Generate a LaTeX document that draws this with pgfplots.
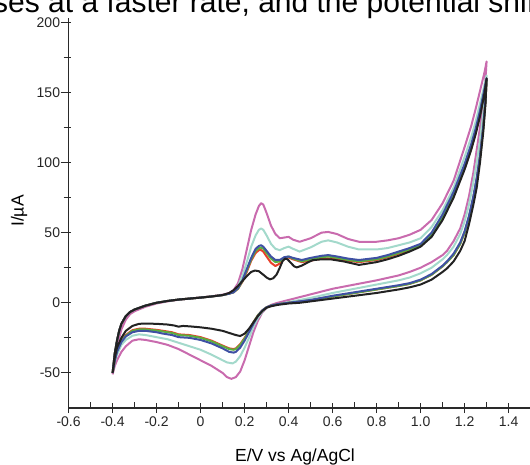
\documentclass[border=0pt]{standalone}
\usepackage{fontspec}
\setmainfont{Liberation Sans}
\usepackage{pgfplots}
\pgfplotsset{compat=1.18}
\definecolor{cvpink}{HTML}{C96BAE}
\definecolor{cvteal}{HTML}{A3D9CB}
\definecolor{cvblue}{HTML}{3F51A3}
\definecolor{cvgreen}{HTML}{5BAE3F}
\definecolor{cvred}{HTML}{E8402A}
\definecolor{cvblack}{HTML}{222222}
\definecolor{axgray}{HTML}{2A2A2A}
\begin{document}
\begin{tikzpicture}[x=1pt,y=1pt]
\useasboundingbox (0,0) rectangle (530,-465);
\node[anchor=base west, inner sep=0pt, font=\fontsize{30}{30}\selectfont] at (-7,-13) {ses at a faster rate, and the potential shift};
\begin{axis}[
  at={(68.6pt,-408pt)}, anchor=south west,
  scale only axis, width=462pt, height=390pt,
  xmin=-0.6, xmax=1.5, ymin=-75, ymax=203,
  axis lines=left,
  axis line style={-, line width=1.6pt, color=axgray},
  tick align=center,
  major tick length=10pt, minor tick length=7pt,
  every tick/.style={line width=1.1pt, color=axgray},
  every major y tick/.style={xshift=-3pt},
  every minor y tick/.style={xshift=-1.5pt},
  every minor x tick/.style={yshift=3pt},
  xtick={-0.6,-0.4,-0.2,0,0.2,0.4,0.6,0.8,1.0,1.2,1.4},
  xticklabels={-0.6,-0.4,-0.2,0,0.2,0.4,0.6,0.8,1.0,1.2,1.4},
  minor xtick={-0.5,-0.3,-0.1,0.1,0.3,0.5,0.7,0.9,1.1,1.3},
  ytick={-50,0,50,100,150,200},
  yticklabels={-50,0,50,100,150,200},
  minor ytick={-25,25,75,125,175},
  ticklabel style={font=\fontsize{14}{14}\selectfont, color=black!85},
  xlabel={E/V vs Ag/AgCl},
  ylabel={I/\textmu A},
  xlabel style={font=\fontsize{17.5}{18}\selectfont, at={(axis description cs:0.49,-0.1377)}, anchor=base},
  ylabel style={font=\fontsize{17.5}{18}\selectfont, at={(axis description cs:-0.107,0.505)}, anchor=center, rotate=0},
  clip=false,
  every axis plot/.append style={line width=2pt, line join=round, mark=none},
]
% pink
\addplot[cvpink] coordinates {
(-0.4,-51) (-0.395,-46) (-0.39,-40) (-0.38,-32) (-0.37,-25) (-0.36,-19) (-0.34,-12) (-0.32,-8) (-0.3,-6) (-0.25,-2.8) (-0.2,-0.5) (-0.15,1) (-0.1,2.2) (-0.05,3) (0,3.8) (0.05,4.6) (0.1,5.8) (0.13,7)
(0.15,9) (0.17,14) (0.19,24) (0.21,38) (0.23,52) (0.25,63) (0.265,69) (0.275,71) (0.285,70) (0.3,64) (0.32,55) (0.34,49) (0.36,46) (0.38,46.5) (0.4,47) (0.42,45) (0.45,43.5) (0.5,46) (0.55,50) (0.58,50.5) (0.62,49) (0.67,45.5) (0.72,43.5) (0.8,43.5) (0.85,44.5) (0.9,46) (0.95,48.5) (1.0,52) (1.05,59) (1.1,71) (1.15,87) (1.2,111) (1.23,126) (1.25,138) (1.27,151) (1.29,164) (1.3,172)
(1.295,160) (1.285,145) (1.27,125) (1.255,109) (1.24,93) (1.22,76) (1.2,63) (1.18,53) (1.15,44) (1.12,37) (1.1,34) (1.05,29) (1.0,25) (0.95,22) (0.9,19.5) (0.8,16) (0.7,13) (0.6,10) (0.5,6) (0.45,4) (0.4,2) (0.35,0) (0.32,-1.5) (0.3,-3.5) (0.28,-7) (0.26,-13) (0.24,-21) (0.22,-31) (0.2,-41) (0.18,-49) (0.16,-53) (0.14,-54.2) (0.12,-53) (0.1,-50) (0.05,-45) (0,-41) (-0.05,-37) (-0.1,-33) (-0.15,-30) (-0.2,-28) (-0.25,-26.5) (-0.28,-26) (-0.31,-27) (-0.34,-31) (-0.36,-35) (-0.38,-41) (-0.39,-45) (-0.4,-51)
};
% teal
\addplot[cvteal] coordinates {
(-0.4,-50) (-0.395,-43) (-0.39,-36) (-0.38,-27) (-0.37,-20) (-0.36,-15) (-0.34,-9.5) (-0.32,-6.5) (-0.3,-4.8) (-0.25,-2) (-0.2,0) (-0.15,1.3) (-0.1,2.3) (-0.05,3) (0,3.7) (0.05,4.5) (0.1,5.5) (0.13,6.5)
(0.15,8) (0.17,12) (0.19,19) (0.21,29) (0.23,40) (0.25,48) (0.265,52) (0.275,53) (0.285,52) (0.3,48) (0.32,42) (0.34,38.5) (0.36,37.5) (0.38,39) (0.4,40) (0.42,38.5) (0.45,36.5) (0.5,39.5) (0.55,43.5) (0.58,44.5) (0.62,43) (0.67,40) (0.72,38) (0.8,38) (0.85,39) (0.9,41) (0.95,43) (1.0,46) (1.05,54) (1.1,66) (1.15,82) (1.2,104) (1.23,118) (1.25,129) (1.27,142) (1.29,155) (1.3,162)
(1.295,151) (1.285,135) (1.27,116) (1.255,100) (1.24,86) (1.22,70) (1.2,58) (1.18,49) (1.15,40) (1.12,34) (1.1,31) (1.05,25) (1.0,21) (0.95,18) (0.9,16) (0.8,13) (0.7,10) (0.6,7) (0.5,3.5) (0.45,2) (0.4,0.5) (0.35,-1) (0.32,-2) (0.3,-3.5) (0.28,-6.5) (0.26,-11) (0.24,-17) (0.22,-25) (0.2,-32) (0.18,-38) (0.16,-42) (0.145,-43.2) (0.12,-42.5) (0.1,-41) (0.05,-37) (0,-33.5) (-0.05,-31) (-0.1,-28.5) (-0.15,-26) (-0.2,-24.5) (-0.25,-23) (-0.28,-22.5) (-0.31,-23.5) (-0.34,-26.5) (-0.36,-30) (-0.38,-37) (-0.39,-42) (-0.4,-50)
};
% red
\addplot[cvred] coordinates {
(-0.4,-50) (-0.395,-43) (-0.39,-36) (-0.38,-27) (-0.37,-20) (-0.36,-15) (-0.34,-9.5) (-0.32,-6.5) (-0.3,-4.8) (-0.25,-2) (-0.2,0) (-0.15,1.3) (-0.1,2.3) (-0.05,3) (0,3.7) (0.05,4.5) (0.1,5.5) (0.13,6.5)
(0.15,7.5) (0.17,10) (0.19,15) (0.21,22) (0.23,30) (0.25,35.5) (0.265,37.5) (0.275,37.6) (0.285,36.5) (0.3,33) (0.32,28.5) (0.34,26.2) (0.36,28) (0.38,31.5) (0.4,32.3) (0.42,31) (0.46,29) (0.5,30) (0.55,31.5) (0.58,31.6) (0.62,31) (0.67,30) (0.72,29) (0.8,30.5) (0.85,32.5) (0.9,35) (0.95,37.5) (1.0,40.5) (1.05,48) (1.1,60) (1.15,76) (1.2,96) (1.23,110) (1.25,121) (1.27,134) (1.29,150) (1.3,159)
(1.295,144) (1.285,125) (1.27,104) (1.255,88) (1.24,75) (1.22,61) (1.2,50) (1.18,42) (1.15,34) (1.12,29) (1.1,26) (1.05,20) (1.0,16) (0.95,13.5) (0.9,12) (0.8,9.5) (0.7,7) (0.6,4.5) (0.5,1.8) (0.45,0.8) (0.4,0) (0.35,-1) (0.32,-2) (0.3,-3.2) (0.28,-5.5) (0.26,-9) (0.24,-14) (0.22,-20) (0.2,-25) (0.18,-29.5) (0.16,-32.5) (0.15,-33) (0.13,-32.5) (0.1,-30.5) (0.05,-27) (0,-24.5) (-0.05,-23) (-0.1,-22.5) (-0.13,-21) (-0.17,-20) (-0.2,-19.3) (-0.25,-18.5) (-0.28,-18.5) (-0.31,-19.5) (-0.34,-23) (-0.36,-27) (-0.38,-34) (-0.39,-40.5) (-0.4,-50)
};
% green
\addplot[cvgreen] coordinates {
(-0.4,-50) (-0.395,-43) (-0.39,-36) (-0.38,-27) (-0.37,-20) (-0.36,-15) (-0.34,-9.5) (-0.32,-6.5) (-0.3,-4.8) (-0.25,-2) (-0.2,0) (-0.15,1.3) (-0.1,2.3) (-0.05,3) (0,3.7) (0.05,4.5) (0.1,5.5) (0.13,6.5)
(0.15,7.5) (0.17,10) (0.19,15.5) (0.21,23) (0.23,31) (0.25,37) (0.265,39) (0.275,39.3) (0.285,38.5) (0.3,35.5) (0.32,31.5) (0.34,29) (0.36,29.5) (0.38,32) (0.4,33) (0.42,31.5) (0.46,29.5) (0.5,31) (0.55,32.5) (0.58,33) (0.62,32) (0.67,30.5) (0.72,29.5) (0.8,31) (0.85,33) (0.9,35.5) (0.95,38) (1.0,41) (1.05,48.5) (1.1,61) (1.15,77) (1.2,97) (1.23,111) (1.25,122) (1.27,135) (1.29,151) (1.3,159)
(1.295,144) (1.285,125) (1.27,104) (1.255,88) (1.24,75) (1.22,61) (1.2,50) (1.18,42) (1.15,34) (1.12,29) (1.1,26) (1.05,20) (1.0,16) (0.95,13.5) (0.9,12) (0.8,9.5) (0.7,7) (0.6,4.5) (0.5,1.8) (0.45,0.8) (0.4,0) (0.35,-1) (0.32,-2) (0.3,-3.2) (0.28,-5.5) (0.26,-9) (0.24,-14) (0.22,-20) (0.2,-25.5) (0.18,-30) (0.16,-33) (0.15,-33.5) (0.13,-33) (0.1,-31) (0.05,-27.5) (0,-25) (-0.05,-23.5) (-0.1,-23) (-0.13,-21.5) (-0.17,-20.5) (-0.2,-19.8) (-0.25,-19) (-0.28,-19) (-0.31,-20) (-0.34,-23.5) (-0.36,-27.5) (-0.38,-34.5) (-0.39,-41) (-0.4,-50)
};
% blue
\addplot[cvblue] coordinates {
(-0.4,-50) (-0.395,-43) (-0.39,-36) (-0.38,-27) (-0.37,-20) (-0.36,-15) (-0.34,-9.5) (-0.32,-6.5) (-0.3,-4.8) (-0.25,-2) (-0.2,0) (-0.15,1.3) (-0.1,2.3) (-0.05,3) (0,3.7) (0.05,4.5) (0.1,5.5) (0.13,6.5)
(0.15,7.5) (0.17,10.5) (0.19,16) (0.21,24) (0.23,32) (0.25,38.5) (0.265,40.5) (0.275,41) (0.285,40) (0.3,37) (0.32,33) (0.34,30.5) (0.36,30.5) (0.38,32.5) (0.4,33) (0.42,32) (0.46,30.5) (0.5,32) (0.55,33.5) (0.58,34) (0.62,33) (0.67,31.5) (0.72,30.5) (0.8,32) (0.85,34) (0.9,36.5) (0.95,39) (1.0,42) (1.05,50) (1.1,63) (1.15,79) (1.2,99) (1.23,113) (1.25,124) (1.27,137) (1.29,152) (1.3,160)
(1.295,145) (1.285,126) (1.27,105) (1.255,89) (1.24,76) (1.22,62) (1.2,51) (1.18,43) (1.15,35) (1.12,29.5) (1.1,26.5) (1.05,20.5) (1.0,16.5) (0.95,14) (0.9,12.5) (0.8,10) (0.7,7.5) (0.6,5) (0.5,2) (0.45,1) (0.4,0) (0.35,-1) (0.32,-2) (0.3,-3.2) (0.28,-5.5) (0.26,-9.5) (0.24,-15) (0.22,-21) (0.2,-27) (0.18,-32) (0.16,-35) (0.15,-35.5) (0.13,-35) (0.1,-32.5) (0.05,-29) (0,-26.5) (-0.05,-25) (-0.1,-24.5) (-0.13,-23) (-0.17,-22) (-0.2,-21) (-0.25,-20) (-0.28,-20) (-0.31,-21) (-0.34,-24) (-0.36,-28) (-0.38,-35) (-0.39,-41) (-0.4,-50)
};
% black
\addplot[cvblack] coordinates {
(-0.4,-50) (-0.395,-43) (-0.39,-36) (-0.38,-27) (-0.37,-20) (-0.36,-15) (-0.34,-9.5) (-0.32,-6.5) (-0.3,-4.8) (-0.25,-2) (-0.2,0) (-0.15,1.3) (-0.1,2.3) (-0.05,3) (0,3.7) (0.05,4.5) (0.1,5.5)
(0.13,7) (0.15,9) (0.17,12) (0.19,15.5) (0.21,19) (0.23,22) (0.247,23) (0.265,22.5) (0.285,20) (0.3,18) (0.315,16.7) (0.33,17.5) (0.345,20) (0.36,25) (0.372,29.5) (0.384,31.5) (0.395,31) (0.41,28.5) (0.425,26) (0.437,25.2) (0.46,26.5) (0.49,29) (0.51,30.4) (0.55,31) (0.59,31) (0.65,29.5) (0.72,27) (0.8,29) (0.85,31) (0.9,33.5) (0.95,36.5) (1.0,40) (1.05,47) (1.1,59) (1.15,75) (1.2,95) (1.23,109) (1.25,120) (1.27,133) (1.29,149) (1.3,160)
(1.295,142) (1.285,122) (1.27,100) (1.255,82) (1.24,70) (1.22,56) (1.2,44) (1.18,37) (1.15,29.5) (1.12,24.5) (1.1,22) (1.05,16.5) (1.0,13) (0.95,11) (0.9,9.5) (0.8,7) (0.7,5) (0.6,3) (0.5,1) (0.45,0) (0.4,-0.5) (0.35,-1.5) (0.32,-2.5) (0.3,-3.5) (0.28,-6) (0.26,-9.5) (0.24,-14) (0.22,-18.5) (0.2,-22) (0.18,-23.7) (0.16,-23) (0.14,-22) (0.1,-20) (0.05,-18.5) (0,-17.5) (-0.05,-16.8) (-0.08,-16.5) (-0.1,-17) (-0.12,-16.2) (-0.15,-15.5) (-0.2,-15) (-0.25,-14.8) (-0.28,-15) (-0.31,-16.5) (-0.34,-20) (-0.36,-25) (-0.38,-32) (-0.39,-39) (-0.4,-50)
};
\end{axis}
\end{tikzpicture}
\end{document}
